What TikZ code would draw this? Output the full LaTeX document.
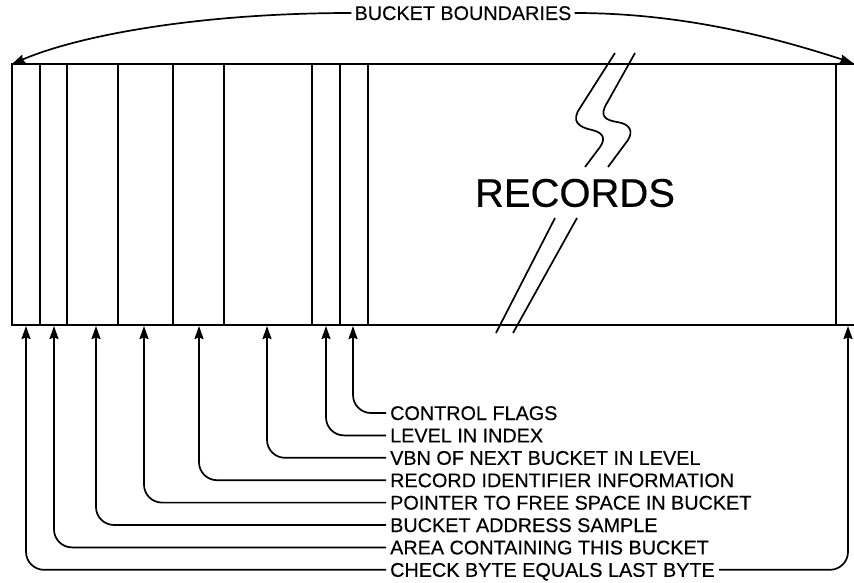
\documentclass[tikz,border=0pt]{standalone}
\usepackage{fontspec}
\setmainfont{Liberation Sans}
\newfontfamily\inkfont{Liberation Sans}[FakeBold=0.35]
\usetikzlibrary{arrows.meta}

\tikzset{
  lbl/.style={anchor=west, inner sep=4pt, text height=14pt, text depth=0pt,
    font=\inkfont\fontsize{19.8}{20}\selectfont},
  lead/.style={->, line width=1.7pt, rounded corners=18pt},
  wall/.style={line width=2pt},
}

\begin{document}
\begin{tikzpicture}[x=1pt,y=-1pt,>={Stealth[length=13pt,width=9pt,inset=1.5pt]}]
\useasboundingbox (0,0) rectangle (854,583);

        % the bucket
        \draw[wall] (854,64) -- (12,64) -- (12,325) -- (854,325);
        \foreach \x in {40,67,118,173,224,312,340,368,836}
          \draw[wall] (\x,64) -- (\x,325);

        % break mark
        \draw[line width=1.7pt] (615,53) -- (580,108)
          .. controls (571,121) and (578,127) .. (592,130)
          .. controls (605,133) and (605,140) .. (600,147) -- (585,167);
        \draw[line width=1.7pt] (635,53) -- (607,103)
          .. controls (599,116) and (605,120) .. (617,122)
          .. controls (631,124) and (633,132) .. (628,140) -- (608,167);
        \draw[line width=1.7pt] (555,218) -- (496,333);
        \draw[line width=1.7pt] (577,218) -- (513,333);

        \node (rec) at (575,193) {\inkfont\fontsize{40}{40}\selectfont RECORDS};

        % boundaries
        \node[inner sep=3pt, text height=14pt, text depth=0pt,
          font=\inkfont\fontsize{19.8}{20}\selectfont] (bnd) at (463,13) {BUCKET BOUNDARIES};
        \coordinate (bl) at (12,64);
        \coordinate (br) at (853,63);
        \draw[->, line width=1.7pt] (bnd.west) .. controls (200,13) and (80,35) .. (bl);
        \draw[->, line width=1.7pt] (bnd.east) .. controls (680,13) and (770,36) .. (br);

        % fields
        \node[lbl] (ctl) at (386,413)   {CONTROL FLAGS};
        \node[lbl] (lvl) at (386,435.4) {LEVEL IN INDEX};
        \node[lbl] (vbn) at (386,457.8) {VBN OF NEXT BUCKET IN LEVEL};
        \node[lbl] (rid) at (386,480.2) {RECORD IDENTIFIER INFORMATION};
        \node[lbl] (fre) at (386,502.6) {POINTER TO FREE SPACE IN BUCKET};
        \node[lbl] (adr) at (386,525)   {BUCKET ADDRESS SAMPLE};
        \node[lbl] (are) at (386,547.4) {AREA CONTAINING THIS BUCKET};
        \node[lbl] (chk) at (386,569.8) {CHECK BYTE EQUALS LAST BYTE};

        \coordinate (pctl) at (353,326);
        \coordinate (plvl) at (326,326);
        \coordinate (pvbn) at (267,326);
        \coordinate (prid) at (199,326);
        \coordinate (pfre) at (144,326);
        \coordinate (padr) at (96,326);
        \coordinate (pare) at (54,326);
        \coordinate (pchk) at (26,326);
        \coordinate (pchkr) at (848,326);

        \draw[lead] (ctl.west) -| (pctl);
        \draw[lead] (lvl.west) -| (plvl);
        \draw[lead] (vbn.west) -| (pvbn);
        \draw[lead] (rid.west) -| (prid);
        \draw[lead] (fre.west) -| (pfre);
        \draw[lead] (adr.west) -| (padr);
        \draw[lead] (are.west) -| (pare);
        \draw[lead] (chk.west) -| (pchk);
        \draw[lead] (chk.east) -| (pchkr);

\end{tikzpicture}
\end{document}
